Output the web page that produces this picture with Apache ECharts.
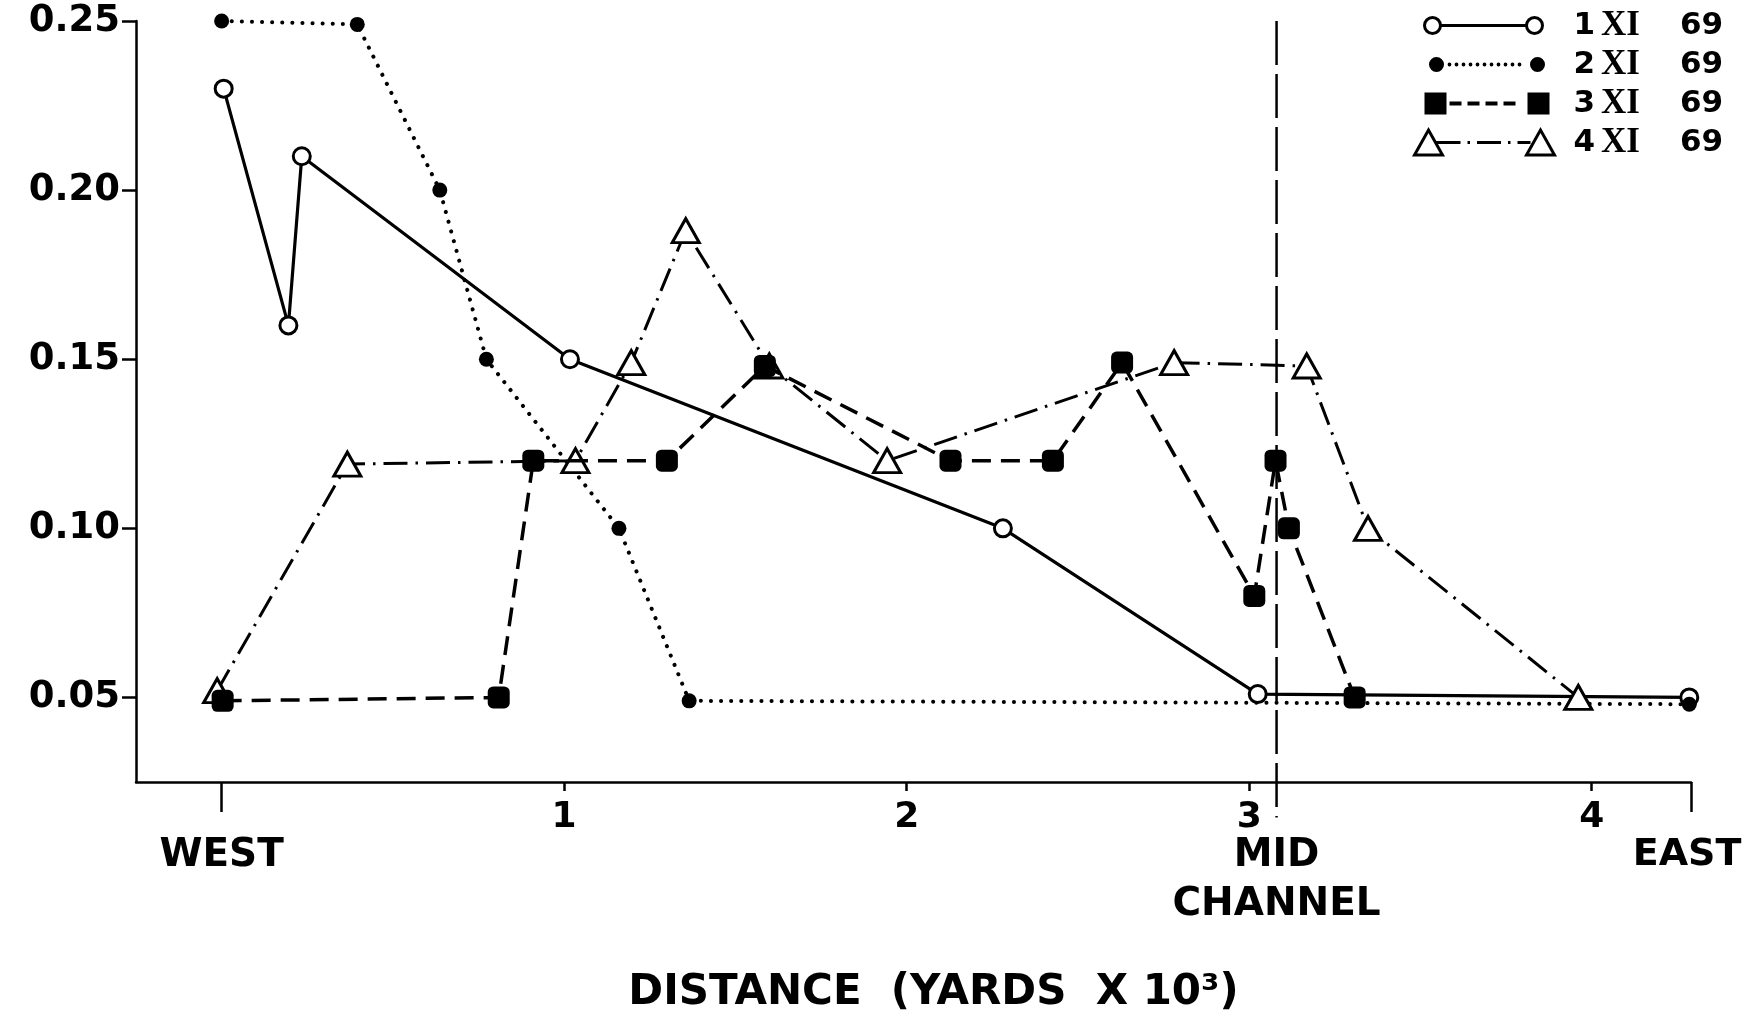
<!DOCTYPE html>
<html>
<head>
<meta charset="utf-8">
<title>Distance profile, November 1969</title>
<script src="https://cdn.jsdelivr.net/npm/echarts@6/dist/echarts.min.js"></script>
<style>
  html, body { margin: 0; padding: 0; background: #fff; overflow: hidden; }
  #chart { width: 1745px; height: 1014px; }
</style>
</head>
<body>
<div id="chart"></div>
<script>
// Sampling dates
const seriesNames = ['1 XI 69', '2 XI 69', '3 XI 69', '4 XI 69'];

// Distance from the west shore (thousands of yards) and measured value, per date
const dist1 = [0.006, 0.195, 0.234, 1.017, 2.281, 3.025, 4.285];
const val1  = [0.230, 0.160, 0.210, 0.150, 0.100, 0.051, 0.050];

const dist2 = [0.000, 0.396, 0.637, 0.773, 1.160, 1.365, 4.285];
const val2  = [0.250, 0.249, 0.200, 0.150, 0.100, 0.049, 0.048];

const dist3 = [0.003, 0.809, 0.910, 1.300, 1.586, 2.128, 2.427, 2.629, 3.015, 3.077, 3.116, 3.308];
const val3  = [0.049, 0.050, 0.120, 0.120, 0.148, 0.120, 0.120, 0.149, 0.080, 0.120, 0.100, 0.050];

const dist4 = [-0.013, 0.367, 1.033, 1.196, 1.355, 1.599, 1.943, 2.781, 3.168, 3.347, 3.961];
const val4  = [0.052, 0.119, 0.120, 0.149, 0.188, 0.148, 0.120, 0.149, 0.148, 0.100, 0.050];

// Shore and channel positions along the transect
const regionPositions = [0, 3.08, 4.29];
const regionLabels = ['WEST', 'MID\nCHANNEL', 'EAST'];
const midChannel = 3.08;
const midChannelSpan = [0.25, 0.0145];

// Axis ticks
const distanceTicks = [1, 2, 3, 4];
const distanceTickLabels = ['1', '2', '3', '4'];
const valueTicks = [0.05, 0.10, 0.15, 0.20, 0.25];
const valueTickLabels = ['0.05', '0.10', '0.15', '0.20', '0.25'];

const pairs = (xs, ys) => xs.map((x, i) => [x, ys[i]]);
const nearestIndex = (list, v) => {
  let best = 0;
  list.forEach((p, i) => { if (Math.abs(p - v) < Math.abs(list[best] - v)) best = i; });
  return best;
};

// Legend keys: a line sample with a marker at each end
const IW = 144, IH = 26, CY = 13;
const frame = `M0 0 M${IW} ${IH} `;
const circle = (cx, cy, r) =>
  `M${cx - r} ${cy} A${r} ${r} 0 1 1 ${cx + r} ${cy} A${r} ${r} 0 1 1 ${cx - r} ${cy} Z `;
const rect = (x, y, w, h) => `M${x} ${y} L${x + w} ${y} L${x + w} ${y + h} L${x} ${y + h} Z `;
const tri = (cx) => `M${cx - 14} ${CY + 12.5} L${cx + 14} ${CY + 12.5} L${cx} ${CY - 12.5} Z `;

function keySolidCircles() {
  return frame + circle(20, CY, 8) + `M28 ${CY} L114 ${CY} ` + circle(122, CY, 8);
}
function keyDottedDots() {
  let p = frame + circle(24, CY, 7.5);
  for (let x = 37; x <= 113; x += 7) p += circle(x, CY, 1.9);
  return p + circle(125, CY, 7.5);
}
function keyDashedSquares() {
  let p = frame + rect(12, 2, 22, 22);
  for (let x = 37; x <= 103; x += 18) p += rect(x, CY - 2, 12, 4);
  return p + rect(115, 2, 22, 22);
}
function keyDashDotTriangles() {
  let p = frame + tri(16);
  let x = 24;
  while (x < 116) {
    const end = Math.min(x + 24, 118);
    p += `M${x} ${CY} L${end} ${CY} `;
    x = end + 7;
    if (x < 112) { p += `M${x} ${CY} L${x + 2.5} ${CY} `; }
    x += 9.5;
  }
  return p + tri(128);
}
const legendIcons = [keySolidCircles(), keyDottedDots(), keyDashedSquares(), keyDashDotTriangles()];
const legendIconStyles = [
  { color: '#fff', borderColor: '#000', borderWidth: 3 },
  { color: '#000', borderColor: '#000', borderWidth: 0 },
  { color: '#000', borderColor: '#000', borderWidth: 0 },
  { color: '#fff', borderColor: '#000', borderWidth: 3 }
];

const INK = '#000';
const labelFont = "'DejaVu Sans', 'Noto Sans', sans-serif";
const numberFont = "'DejaVu Sans', 'Noto Sans', sans-serif";
const romanFont = "'Liberation Serif', 'DejaVu Serif', serif";

const chart = echarts.init(document.getElementById('chart'), null, { renderer: 'canvas' });

chart.setOption({
  animation: false,
  backgroundColor: '#fff',
  grid: { left: 136, right: 54, top: 21, bottom: 232, containLabel: false, outerBoundsMode: 'none' },
  legend: {
    orient: 'vertical',
    left: 1406,
    top: 3,
    itemWidth: IW,
    itemHeight: IH,
    itemGap: 4,
    selectedMode: false,
    symbolKeepAspect: true,
    data: seriesNames.map((n, i) => ({
      name: n,
      icon: 'path://' + legendIcons[i],
      itemStyle: legendIconStyles[i]
    })),
    formatter: (name) => {
      const p = name.split(' ');
      return `{n|${p[0]}}{r|${p[1]}}{n|${p[2]}}`;
    },
    textStyle: {
      color: INK,
      padding: [0, 0, 0, 12],
      rich: {
        n: { fontSize: 31, lineHeight: 30, fontWeight: 'bold', fontFamily: numberFont, color: INK },
        r: { fontSize: 35, lineHeight: 30, fontWeight: 'bold', fontFamily: romanFont, color: INK, padding: [0, 40, 0, 6] }
      }
    }
  },
  xAxis: [
    {
      type: 'value',
      min: -0.25,
      max: 4.29,
      position: 'bottom',
      splitLine: { show: false },
      axisLine: { show: true, onZero: false, lineStyle: { color: INK, width: 2.5 } },
      axisTick: { show: true, customValues: distanceTicks, length: 9, lineStyle: { color: INK, width: 2.5 } },
      axisLabel: {
        customValues: distanceTicks,
        formatter: (v) => distanceTickLabels[nearestIndex(distanceTicks, v)],
        margin: 18,
        fontSize: 36,
        fontWeight: 'bold',
        fontFamily: labelFont,
        color: INK
      }
    },
    {
      type: 'value',
      min: -0.25,
      max: 4.29,
      position: 'bottom',
      offset: 0,
      splitLine: { show: false },
      axisLine: { show: false, onZero: false },
      axisTick: { show: true, customValues: [regionPositions[0], regionPositions[2]], length: 30, lineStyle: { color: INK, width: 2.5 } },
      axisLabel: {
        customValues: regionPositions,
        formatter: (v) => {
          const i = nearestIndex(regionPositions, v);
          // the east shore label sits against the right edge
          return i === regionPositions.length - 1 ? `{e|${regionLabels[i]}}` : regionLabels[i];
        },
        margin: 49,
        lineHeight: 49,
        fontSize: 39,
        fontWeight: 'bold',
        fontFamily: labelFont,
        color: INK,
        rich: {
          e: { fontSize: 38, lineHeight: 49, fontWeight: 'bold', fontFamily: labelFont, color: INK, padding: [0, 8, 0, 0] }
        }
      },
      name: 'DISTANCE  (YARDS  X 10³)',
      nameLocation: 'middle',
      nameGap: 190,
      nameTextStyle: {
        padding: [0, 0, 0, 40],
        fontSize: 42,
        fontWeight: 'bold',
        fontFamily: labelFont,
        color: INK
      }
    }
  ],
  yAxis: {
    type: 'value',
    min: 0.025,
    max: 0.25,
    splitLine: { show: false },
    axisLine: { show: true, onZero: false, lineStyle: { color: INK, width: 2.5 } },
    axisTick: { show: true, customValues: valueTicks, length: 14, lineStyle: { color: INK, width: 2.5 } },
    axisLabel: {
      customValues: valueTicks,
      formatter: (v) => valueTickLabels[nearestIndex(valueTicks, v)],
      margin: 16,
      fontSize: 37,
      fontWeight: 'bold',
      fontFamily: numberFont,
      color: INK
    }
  },
  series: [
    {
      name: 'mid channel',
      type: 'line',
      data: midChannelSpan.map((y) => [midChannel, y]),
      symbol: 'none',
      clip: false,
      silent: true,
      lineStyle: { color: INK, width: 2.5, type: [44, 9] },
      z: 1
    },
    {
      name: seriesNames[0],
      type: 'line',
      data: pairs(dist1, val1),
      symbol: 'circle',
      symbolSize: 17,
      itemStyle: { color: '#fff', borderColor: INK, borderWidth: 3 },
      lineStyle: { color: INK, width: 3.2, type: 'solid' },
      z: 2
    },
    {
      name: seriesNames[1],
      type: 'line',
      data: pairs(dist2, val2),
      symbol: 'circle',
      symbolSize: 15,
      itemStyle: { color: INK, borderWidth: 0 },
      lineStyle: { color: INK, width: 4, type: [0.1, 10], cap: 'round' },
      z: 2
    },
    {
      name: seriesNames[3],
      type: 'line',
      data: pairs(dist4, val4),
      symbol: 'triangle',
      symbolSize: [27, 24],
      itemStyle: { color: '#fff', borderColor: INK, borderWidth: 3 },
      lineStyle: { color: INK, width: 3, type: [24, 8, 2.5, 8] },
      z: 3
    },
    {
      name: seriesNames[2],
      type: 'line',
      data: pairs(dist3, val3),
      symbol: 'roundRect',
      symbolSize: 22,
      itemStyle: { color: INK, borderWidth: 0 },
      lineStyle: { color: INK, width: 3.5, type: [19, 10] },
      z: 4
    }
  ]
});
</script>
</body>
</html>
